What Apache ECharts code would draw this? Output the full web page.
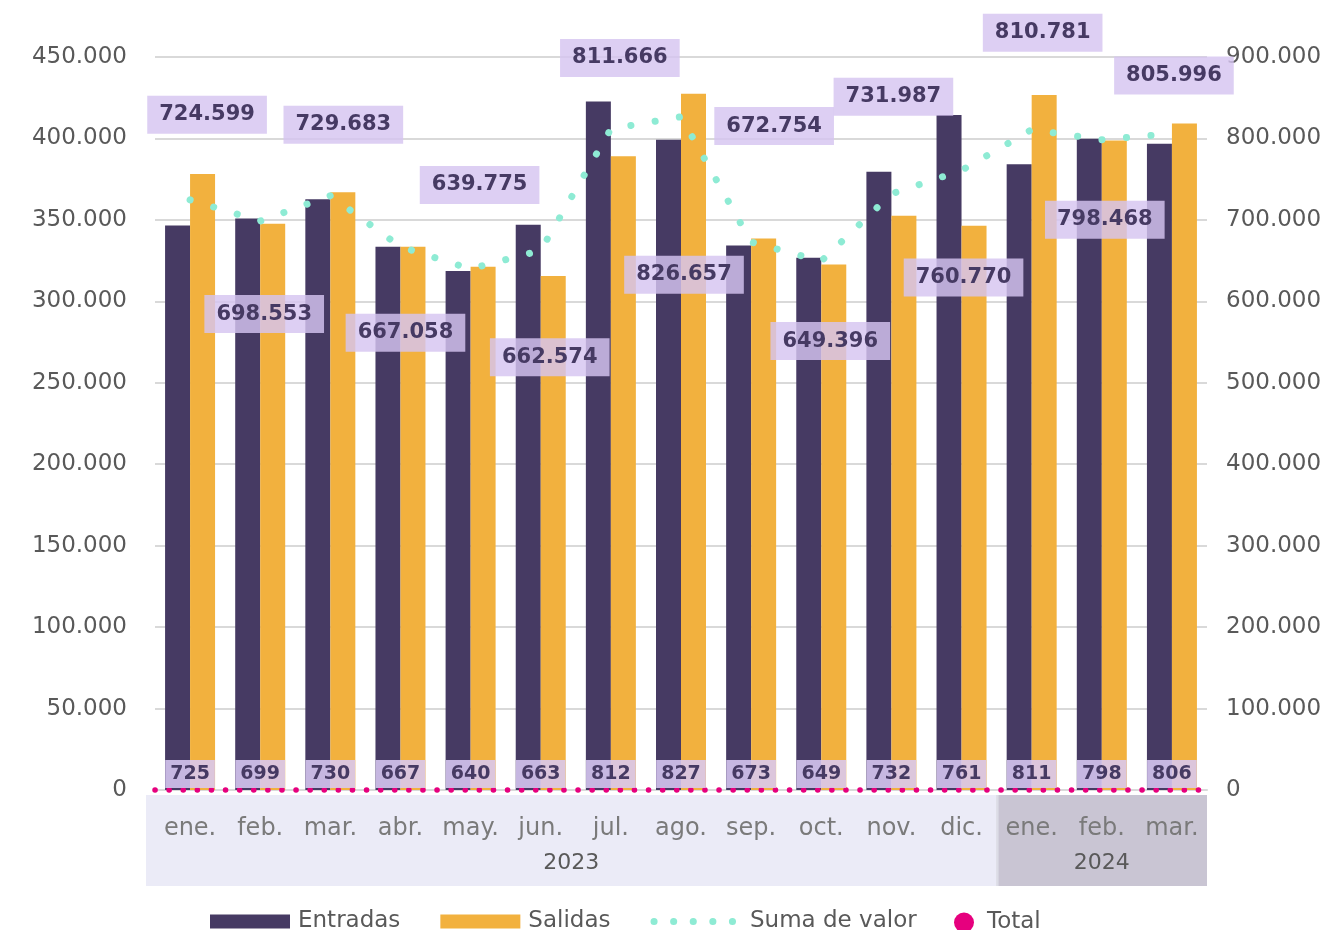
<!DOCTYPE html>
<html>
<head>
<meta charset="utf-8">
<script src="https://cdn.jsdelivr.net/npm/echarts@6/dist/echarts.min.js"></script>
<style>html,body{margin:0;padding:0;background:#fff}#c{width:1333px;height:930px}</style>
</head>
<body>
<div id="c"></div>
<script>
const months = ['ene.','feb.','mar.','abr.','may.','jun.','jul.','ago.','sep.','oct.','nov.','dic.','ene.','feb.','mar.'];
const years = ['2023','2023','2023','2023','2023','2023','2023','2023','2023','2023','2023','2023','2024','2024','2024'];
const entradas = [346500, 350800, 362700, 333500, 318600, 347000, 422700, 399200, 334300, 326800, 379500, 414400, 384200, 399800, 396800];
const salidas = [378100, 347700, 367000, 333500, 321200, 315600, 389000, 427500, 338500, 322600, 352500, 346400, 426600, 398700, 409200];
const sumaValor = [724599, 698553, 729683, 667058, 639775, 662574, 811666, 826657, 672754, 649396, 731987, 760770, 810781, 798468, 805996];
const totalPlot = [0, 0, 0, 0, 0, 0, 0, 0, 0, 0, 0, 0, 0, 0, 0];
const totalLabels = [725, 699, 730, 667, 640, 663, 812, 827, 673, 649, 732, 761, 811, 798, 806];

// label layout (pixel offsets of the "Suma de valor" boxes relative to their points)
const labelDx = [17, 4, 13, 5, 9, 9, 9, 3, 23, 9, 2, 2, 11, 3, 2];
const labelDy = [-85, 93, -71, 86, -84, 107, -71, 158, -116, 80, -97, 107, -97, 80, -58];

const FONT = 'DejaVu Sans';
const fmt = v => String(v).replace(/\B(?=(\d{3})+(?!\d))/g, '.');
const cats = months.map((m, i) => m + ' ' + years[i] + ' #' + i);

const chart = echarts.init(document.getElementById('c'), null, {renderer: 'canvas'});

const option = {
  animation: false,
  backgroundColor: '#ffffff',
  textStyle: {fontFamily: FONT},
  grid: {left: 155, right: 126, top: 57, bottom: 140},
  legend: [
    {
      data: [
        {name: 'Entradas', icon: 'rect'},
        {name: 'Salidas', icon: 'rect'},
        {name: 'Suma de valor', itemStyle: {opacity: 0},
         lineStyle: {color: '#8eebd4', width: 7, type: [0.1, 19.5], cap: 'round', opacity: 1},
         textStyle: {padding: [0, 0, 0, 11]}}
      ],
      left: 205, top: 905, itemWidth: 80, itemHeight: 14, itemGap: 40,
      textStyle: {fontSize: 23, color: '#595959', fontFamily: FONT, padding: [0, 0, 0, 3]}
    },
    {
      data: [{name: 'Total', icon: 'circle', itemStyle: {color: '#e6007e', opacity: 1}}],
      left: 949, top: 906, itemWidth: 20, itemHeight: 20,
      textStyle: {fontSize: 23, color: '#595959', fontFamily: FONT, padding: [0, 0, 0, 8]}
    }
  ],
  xAxis: {
    type: 'category',
    data: cats,
    axisTick: {show: false},
    axisLine: {lineStyle: {color: '#d9d9d9', width: 2}},
    axisLabel: {
      interval: 0, margin: 27, fontSize: 24, color: '#7a7a7a', fontFamily: FONT,
      formatter: v => v.split(' ')[0]
    }
  },
  yAxis: [
    {
      type: 'value', min: 0, max: 450000, interval: 50000,
      axisLabel: {formatter: fmt, fontSize: 23, color: '#595959', margin: 28, fontFamily: FONT},
      axisLine: {show: false}, axisTick: {show: false},
      splitLine: {lineStyle: {color: '#d9d9d9', width: 2}}
    },
    {
      type: 'value', min: 0, max: 900000, interval: 100000, position: 'right',
      axisLabel: {formatter: fmt, fontSize: 23, color: '#595959', margin: 19, fontFamily: FONT},
      axisLine: {show: false}, axisTick: {show: false},
      splitLine: {show: false}
    }
  ],
  series: [
    {
      name: 'Entradas', type: 'bar', data: entradas, barWidth: 25, barGap: '0%',
      itemStyle: {color: '#463a63'}
    },
    {
      name: 'Salidas', type: 'bar', data: salidas, barWidth: 25, barGap: '0%',
      itemStyle: {color: '#f2b13e'}
    },
    {
      name: 'Suma de valor', type: 'line', yAxisIndex: 1, z: 5,
      data: sumaValor.map((v, i) => ({
        value: v,
        label: {offset: [labelDx[i], labelDy[i]]}
      })),
      symbol: 'circle', symbolSize: 1,
      itemStyle: {color: '#8eebd4', opacity: 0},
      lineStyle: {color: '#8eebd4', width: 7, type: [0.1, 24.5], cap: 'round'},
      label: {
        show: true, position: 'inside', opacity: 1,
        formatter: p => fmt(p.value),
        fontFamily: FONT, fontWeight: 'bold', fontSize: 21, color: '#463a63',
        backgroundColor: 'rgba(214,197,240,0.82)', padding: [9, 12, 8, 12]
      }
    },
    {
      name: 'Total', type: 'line', yAxisIndex: 0, z: 6, clip: false,
      data: totalPlot,
      symbol: 'circle', symbolSize: 2, showSymbol: true,
      itemStyle: {color: '#e6007e', opacity: 0},
      lineStyle: {width: 0, opacity: 0},
      label: {
        show: true, position: 'top', distance: 1, opacity: 1,
        formatter: p => String(totalLabels[p.dataIndex]),
        fontFamily: FONT, fontWeight: 'bold', fontSize: 19, color: '#463a63',
        backgroundColor: 'rgba(216,200,242,0.88)', padding: [5, 5, 4, 5]
      },
      markLine: {
        silent: true, symbol: ['none', 'none'],
        label: {show: false},
        lineStyle: {color: '#e6007e', width: 5.5, type: [0.1, 14], cap: 'round', opacity: 1},
        data: [{yAxis: 0}]
      }
    }
  ]
};
chart.setOption(option);

// bottom category bands and year labels, positioned from the axis scale
function drawBands() {
  const p0 = chart.convertToPixel({xAxisIndex: 0}, 0);
  const p1 = chart.convertToPixel({xAxisIndex: 0}, 1);
  const band = p1 - p0;
  const y0 = chart.convertToPixel({yAxisIndex: 0}, 0);
  const groups = [];
  years.forEach((y, i) => {
    const g = groups[groups.length - 1];
    if (g && g.year === y) g.last = i; else groups.push({year: y, first: i, last: i});
  });
  const colors = ['#ebebf7', '#c9c5d3'];
  const elements = [];
  groups.forEach((g, k) => {
    const xa = chart.convertToPixel({xAxisIndex: 0}, g.first) - band / 2 - (k === 0 ? 9 : 0);
    const xb = chart.convertToPixel({xAxisIndex: 0}, g.last) + band / 2;
    elements.push({
      type: 'rect', z: -10, silent: true,
      shape: {x: xa, y: y0 + 5, width: xb - xa, height: 91},
      style: {fill: colors[k % 2]}
    });
    if (k > 0) {
      elements.push({
        type: 'rect', z: -9, silent: true,
        shape: {x: xa, y: y0 + 5, width: 2, height: 91},
        style: {fill: '#dcdce6'}
      });
    }
    elements.push({
      type: 'text', z: 10, silent: true,
      x: (xa + xb) / 2, y: y0 + 73,
      style: {
        text: g.year, fill: '#595959', fontSize: 22, fontFamily: FONT,
        align: 'center', verticalAlign: 'middle'
      }
    });
  });
  chart.setOption({graphic: {elements: elements}});
}
drawBands();
</script>
</body>
</html>
